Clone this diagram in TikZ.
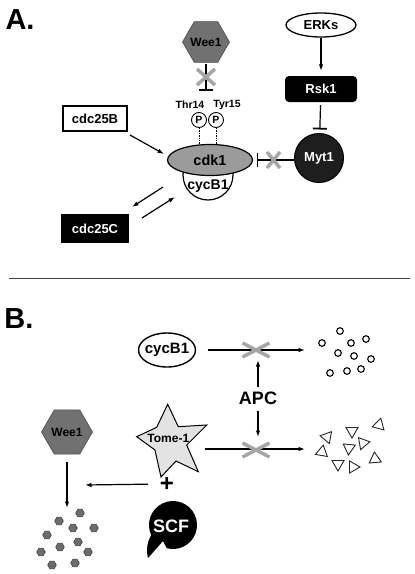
\documentclass[tikz,border=0pt]{standalone}
\usepackage{fontspec}
\setmainfont{Liberation Sans}
\usetikzlibrary{shapes.geometric,arrows.meta,calc}
\definecolor{weegray}{HTML}{717171}
\definecolor{cdkgray}{HTML}{9B9B9B}
\definecolor{stargray}{HTML}{E3E3E3}
\definecolor{xgray}{HTML}{A6A6A6}
\definecolor{mytfill}{HTML}{1E1E1E}
\definecolor{hexsmall}{HTML}{6C6C6C}
\definecolor{sepgray}{HTML}{444444}
\newcommand{\grayX}[4]{\draw[xmark,shift={(#1,#2)}] (-#3,-#4) -- (#3,#4) (-#3,#4) -- (#3,-#4);}
\newcommand{\hexpath}[4]{\filldraw[#4,shift={(#1,#2)}] (0:#3) -- (60:#3) -- (120:#3) -- (180:#3) -- (240:#3) -- (300:#3) -- cycle;}
\newcommand{\smallhex}[2]{\hexpath{#1}{#2}{4.3}{smhex}}
\newcommand{\smallcirc}[2]{\draw[smcirc] (#1,#2) circle[radius=3.3];}
\newcommand{\smalltri}[3]{\draw[smtri,shift={(#1,#2)},rotate=#3] (0:7) -- (120:7) -- (240:7) -- cycle;}
\begin{document}
\begin{tikzpicture}[x=1pt,y=-1pt,
 lbl/.style={font=\fontsize{#1}{#1}\selectfont\bfseries, inner sep=0pt},
 conn/.style={line width=1.2pt},
 arr/.style={conn,-{Latex[length=6.5pt,width=4.5pt]}},
 inh/.style={conn,-{Bar[width=14pt,line width=1.8pt]}},
 xmark/.style={xgray,line width=3.5pt},
 smhex/.style={fill=hexsmall,draw=black!75,line width=0.6pt},
 bighex/.style={fill=weegray,draw=black!70,line width=0.6pt},
 smcirc/.style={draw=black,line width=1.1pt,fill=white},
 smtri/.style={draw=black!85,line width=0.9pt,fill=white,line join=miter},
 pcirc/.style={circle,draw,fill=white,line width=0.9pt,minimum size=15pt,lbl=10.5},
 box/.style={rectangle,draw,line width=1.3pt,lbl=13},
 dotline/.style={densely dotted,line width=0.7pt},
]
\fill[white] (0,0) rectangle (415,574);
\useasboundingbox (0,0) rectangle (415,574);

% ---------------- Panel A ----------------
\node[lbl=29] (labA) at (20,20) {A.};

\hexpath{206}{42}{23.5}{bighex}
\node[lbl=12] (weeA) at (206,42) {Wee1};
\coordinate (weeBar) at (206,91);
\draw[inh,shorten <=18pt] (weeA.south) -- (weeBar);
\grayX{206}{77}{9}{8}

\node[lbl=10.5] (thr) at (190,105) {Thr14};
\node[lbl=10.5] (tyr) at (227,105) {Tyr15};

\node[circle,draw,fill=white,line width=1.2pt,minimum size=50pt,inner sep=0pt] (cycA) at (208,175) {};
\node[ellipse,draw,fill=cdkgray,line width=1.2pt,minimum width=85pt,minimum height=31pt,lbl=14.5] (cdk1) at (210,160) {cdk1};
\node[lbl=14] (cycAt) at (208,186.5) {cycB1};

\node[pcirc] (p1) at (199,120) {P};
\node[pcirc] (p2) at (216,120) {P};
\draw[dotline] (p1.south) -- (p1.south |- cdk1.north);
\draw[dotline] (p2.south) -- (p2.south |- cdk1.north);

\node[box,minimum width=64pt,minimum height=25pt] (cdcB) at (95,118.5) {cdc25B};
\node[box,fill=black,text=white,minimum width=66pt,minimum height=27pt] (cdcC) at (95,228.5) {cdc25C};

\coordinate (bS) at (130,135);
\coordinate (bE) at (164,154);
\draw[arr] (bS) -- (bE);
\coordinate (u1) at (163,187);
\coordinate (u2) at (132,207);
\draw[arr] (u1) -- (u2);
\coordinate (l1) at (142,218);
\coordinate (l2) at (175,197);
\draw[arr] (l1) -- (l2);

\node[ellipse,draw,line width=1.3pt,minimum width=70pt,minimum height=24pt,lbl=13] (erks) at (321,25) {ERKs};
\node[rectangle,rounded corners=4pt,fill=black,text=white,minimum width=72pt,minimum height=26pt,lbl=13] (rsk) at (321,89) {Rsk1};
\node[circle,fill=mytfill,draw=black,line width=1pt,minimum size=49pt,text=white,lbl=13] (myt) at (319,158) {Myt1};

\draw[arr,shorten >=5pt] (erks) -- (rsk);
\draw[inh,shorten >=3.5pt,shorten <=3pt] (rsk) -- (myt);
\draw[inh,shorten >=3.5pt] (myt.west |- cdk1) -- (cdk1.east);
\grayX{273.5}{160}{6.5}{8}

\coordinate (sepL) at (9,278.5);
\coordinate (sepR) at (410,278.5);
\draw[sepgray,line width=1.4pt] (sepL) -- (sepR);

% ---------------- Panel B ----------------
\node[lbl=29] (labB) at (19,319) {B.};

\node[ellipse,draw,line width=1.4pt,minimum width=57pt,minimum height=34pt,inner sep=0pt] (cycB) at (167,350) {};
\node[lbl=15] (cycBt) at (cycB) {cycB1};
\coordinate (cycEnd) at (305,350);
\draw[arr,shorten <=11.5pt] (cycB.east) -- (cycEnd);
\grayX{256}{350}{13.5}{7}

\smallcirc{340}{331}
\smallcirc{322}{343}
\smallcirc{351}{343}
\smallcirc{366}{339}
\smallcirc{338}{353}
\smallcirc{354}{356}
\smallcirc{371}{359}
\smallcirc{330}{373}
\smallcirc{347}{371}
\smallcirc{361}{369}

\node[lbl=18] (apc) at (258,398) {APC};
\coordinate (xu) at (258,360);
\coordinate (xd) at (258,437);
\draw[arr,shorten <=4pt] (apc.north) -- (xu);
\draw[arr,shorten <=6pt] (apc.south) -- (xd);

\filldraw[fill=stargray,draw=black,line width=1pt,line join=miter]
 (167.7,404.3) -- (178.3,426.7) -- (206.7,425) -- (186.7,445) -- (198.3,471.7)
 -- (176,461) -- (161,477) -- (155,450) -- (136.7,436.7) -- (156.7,427.3) -- cycle;
\node[lbl=12] (tome) at (168.3,438.3) {Tome-1};

\coordinate (tStart) at (205,449);
\coordinate (tEnd) at (305,449);
\draw[arr] (tStart) -- (tEnd);
\grayX{256}{450}{13.5}{7}

\smalltri{379}{425}{75}
\smalltri{352}{431}{270}
\smalltri{327}{437}{290}
\smalltri{363}{443}{250}
\smalltri{349}{448}{265}
\smalltri{322}{452}{80}
\smalltri{375}{459}{95}
\smalltri{338}{464}{270}
\smalltri{353}{467}{240}

\hexpath{67}{432}{25.5}{bighex}
\node[lbl=12] (weeB) at (67,432) {Wee1};
\coordinate (weeDown) at (67,508);
\draw[arr,shorten <=26pt] (weeB.south) -- (weeDown);

\node[lbl=24] (plus) at (167,484) {+};
\coordinate (plusEnd) at (85,485);
\draw[arr,shorten <=12pt] (plus.west) -- (plusEnd);

\smallhex{80}{513}
\smallhex{59}{521}
\smallhex{73}{528}
\smallhex{94}{528}
\smallhex{47}{535}
\smallhex{78}{542}
\smallhex{60}{547}
\smallhex{41}{552}
\smallhex{88}{552}
\smallhex{52}{565}
\smallhex{75}{563}

\coordinate (scfc) at (173,525);
\fill[black] (scfc) ++(155:24) arc[start angle=155,end angle=465,radius=24] -- (163,541) -- (148,558) .. controls (146,550) and (147,542) .. cycle;
\node[lbl=18,text=white] (scf) at (171,526) {SCF};
\end{tikzpicture}
\end{document}
